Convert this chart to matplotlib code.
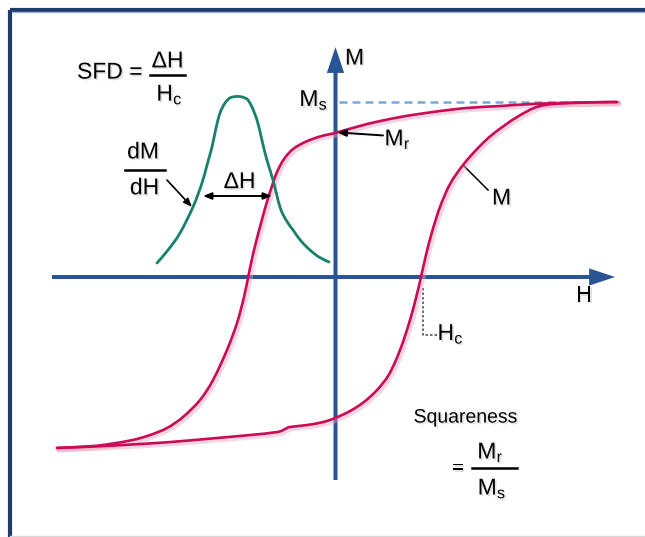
import matplotlib
matplotlib.use("Agg")
import numpy as np
import matplotlib.pyplot as plt
import matplotlib.patheffects as pe
from matplotlib.patches import FancyArrowPatch, PathPatch
from matplotlib.path import Path

plt.rcParams['font.family'] = ['Liberation Sans', 'DejaVu Sans']
plt.rcParams['mathtext.fontset'] = 'custom'
plt.rcParams['mathtext.rm'] = 'Liberation Sans'
plt.rcParams['mathtext.it'] = 'Liberation Sans'

# ---------------- data (H, M in arbitrary units) ----------------
Ms = 1.0          # saturation magnetisation
Mr = 0.826        # remanence
Hc = 0.855        # coercivity

# descending branch (from +saturation to -saturation)
upper_H = [2.815, 2.445, 1.975, 1.645, 1.315, 0.975, 0.645, 0.315, 0.015,
           -0.155, -0.305, -0.425, -0.515, -0.585, -0.635, -0.695, -0.755,
           -0.815, -0.865, -0.915, -0.985, -1.085, -1.225, -1.355, -1.525,
           -1.685, -1.855, -2.025, -2.255, -2.425, -2.785]
upper_M = [1.000, 0.997, 0.989, 0.977, 0.966, 0.943, 0.914, 0.874, 0.826,
           0.803, 0.771, 0.731, 0.674, 0.600, 0.520, 0.411, 0.286,
           0.154, 0.023, -0.114, -0.263, -0.417, -0.589, -0.703, -0.800,
           -0.863, -0.903, -0.931, -0.954, -0.966, -0.977]

# ascending branch (from -saturation to +saturation)
lower_H = [-2.785, -2.425, -1.855, -1.525, -1.185, -0.855, -0.585, -0.505, -0.455,
           -0.285, -0.125, -0.005, 0.145, 0.285, 0.415, 0.525, 0.605, 0.675, 0.745,
           0.805, 0.855, 0.905, 0.965, 1.045, 1.145, 1.275, 1.425, 1.575, 1.815,
           2.045, 2.345, 2.815]
lower_M = [-0.977, -0.969, -0.951, -0.937, -0.920, -0.903, -0.886, -0.869, -0.857,
           -0.846, -0.829, -0.806, -0.766, -0.714, -0.646, -0.566, -0.474, -0.371,
           -0.246, -0.120, 0.000, 0.126, 0.257, 0.400, 0.531, 0.640, 0.737, 0.817,
           0.914, 0.977, 0.994, 1.000]

# switching field distribution dM/dH (drawn in the same frame)
sfd_H = [-1.785, -1.675, -1.555, -1.425, -1.335, -1.285, -1.235, -1.195, -1.155,
         -1.105, -1.055, -1.005, -0.955, -0.905, -0.875, -0.835, -0.785, -0.745,
         -0.705, -0.665, -0.625, -0.555, -0.495, -0.425, -0.345, -0.255, -0.165,
         -0.065]
sfd_y = [0.080, 0.154, 0.251, 0.400, 0.537, 0.640, 0.743, 0.851, 0.937, 0.994,
         1.023, 1.031, 1.031, 1.023, 1.011, 0.971, 0.897, 0.806, 0.709, 0.629,
         0.554, 0.400, 0.326, 0.269, 0.206, 0.154, 0.114, 0.086]

# half-maximum width of the distribution
dH_left, dH_right, dH_level = -1.325, -0.635, 0.463

# axis extents
H_min, H_max = -2.835, 2.795
M_min, M_max = -1.16, 1.314

# ---------------- figure ----------------
fig = plt.figure(figsize=(6.45, 5.37), dpi=100)
ax = fig.add_axes([0, 0, 1, 1])
ax.set_xlim(-3.355, 3.095)
ax.set_ylim(-1.4857, 1.5829)
ax.axis('off')

RED = '#cc0a55'
GREEN = '#17806a'
BLUE = '#2a5595'
NAVY = '#1f3c6e'


def smooth_path(xs, ys):
    """Catmull-Rom curve through the read points, drawn as cubic Beziers."""
    p = np.column_stack([xs, ys]).astype(float)
    n = len(p)
    verts = [p[0]]
    codes = [Path.MOVETO]
    for i in range(n - 1):
        p0 = p[i - 1] if i > 0 else p[i]
        p1, p2 = p[i], p[i + 1]
        p3 = p[i + 2] if i + 2 < n else p[i + 1]
        c1 = p1 + (p2 - p0) / 6.0
        c2 = p2 - (p3 - p1) / 6.0
        verts += [c1, c2, p2]
        codes += [Path.CURVE4] * 3
    return Path(verts, codes)


def draw_curve(xs, ys, color, effects=None, lw=1.9):
    patch = PathPatch(smooth_path(xs, ys), facecolor='none', edgecolor=color,
                      lw=lw, zorder=4, joinstyle='round', capstyle='round')
    if effects:
        patch.set_path_effects(effects)
    ax.add_patch(patch)


# frame
ax.plot([0.0155, 0.0155], [-0.01, 0.9814], transform=ax.transAxes, color=NAVY,
        lw=3.0, solid_capstyle='butt')
ax.plot([0.0155, 1.01], [0.9814, 0.9814], transform=ax.transAxes, color=NAVY,
        lw=3.0, solid_capstyle='butt')
ax.plot([0.0185, 1.01], [0.9768, 0.9768], transform=ax.transAxes, color='#9db4d6',
        lw=1.0, solid_capstyle='butt')
ax.plot([0.0155, 1.01], [0.0025, 0.0025], transform=ax.transAxes, color='#d8d8d8',
        lw=1.0)

# Ms dashed line
ax.plot([0.03, H_max + 0.05], [Ms, Ms], color='#74a9d8', lw=1.8,
        dashes=(3.2, 2.0), zorder=2)

# axes with arrows
for (x0, y0, x1, y1) in [(H_min, 0, H_max, 0), (0, M_min, 0, M_max)]:
    ax.add_patch(FancyArrowPatch((x0, y0), (x1, y1),
                                 arrowstyle='-|>,head_length=0.42,head_width=0.14',
                                 mutation_scale=30, color=BLUE, lw=2.9,
                                 shrinkA=0, shrinkB=0, joinstyle='miter',
                                 capstyle='butt', zorder=3))

# loop
shadow = [pe.Stroke(offset=(1.3, -1.3), linewidth=3.6, foreground='#eea3bf',
                    alpha=0.45), pe.Normal()]
draw_curve(upper_H, upper_M, RED, shadow)
draw_curve(lower_H, lower_M, RED, shadow)

# SFD curve
draw_curve(sfd_H, sfd_y, GREEN, lw=2.0)

tshadow = [pe.withSimplePatchShadow(offset=(1.2, -1.2), shadow_rgbFace='#999999',
                                    alpha=0.3)]
FS = 16.5


def txt(x, y, s, size=FS, ha='center', va='center'):
    ax.text(x, y, s, fontsize=size, ha=ha, va=va, color='black',
            path_effects=tshadow, zorder=6)


# SFD formula
txt(-2.585, 1.171, 'SFD =', ha='left')
txt(-1.68, 1.235, 'ΔH')
ax.plot([-1.855, -1.505], [1.154, 1.154], color='black', lw=1.8)
txt(-1.66, 1.045, r'$\mathregular{H_c}$')

# dM/dH label
txt(-1.925, 0.715, 'dM')
ax.plot([-2.105, -1.705], [0.611, 0.611], color='black', lw=1.8)
txt(-1.91, 0.51, 'dH')
ax.annotate('', xy=(-1.435, 0.400), xytext=(-1.685, 0.554),
            arrowprops=dict(arrowstyle='-|>,head_length=0.5,head_width=0.2',
                            color='black', lw=1.2, shrinkA=0, shrinkB=0))

# delta H arrow
ax.annotate('', xy=(dH_left, dH_level), xytext=(dH_right, dH_level),
            arrowprops=dict(arrowstyle='<|-|>,head_length=0.5,head_width=0.2',
                            color='black', lw=1.4, shrinkA=0, shrinkB=0), zorder=5)
txt((dH_left + dH_right) / 2 + 0.02, 0.545, 'ΔH')

# axis labels
txt(0.095, 1.251, 'M', ha='left')
txt(2.485, -0.103, 'H')
ax.text(-0.075, 0.977, r'$\mathregular{M_s}$', fontsize=FS, ha='right',
        va='baseline', path_effects=tshadow, zorder=6)

# Mr
ax.annotate('', xy=(0.02, Mr), xytext=(0.475, Mr - 0.017),
            arrowprops=dict(arrowstyle='-|>,head_length=0.5,head_width=0.2',
                            color='black', lw=1.4, shrinkA=0, shrinkB=0), zorder=5)
ax.text(0.49, 0.752, r'$\mathregular{M_r}$', fontsize=FS, ha='left',
        va='baseline', path_effects=tshadow, zorder=6)

# M curve label
ax.plot([1.275, 1.525], [0.640, 0.497], color='black', lw=1.1)
txt(1.66, 0.451, 'M')

# Hc
ax.plot([Hc + 0.02, Hc + 0.02, Hc + 0.16], [-0.063, -0.331, -0.331],
        color='#555555', lw=1.2, ls=(0, (1.5, 1.2)))
ax.text(1.02, -0.36, r'$\mathregular{H_c}$', fontsize=FS, ha='left',
        va='baseline', path_effects=tshadow, zorder=6)

# Squareness
txt(1.305, -0.806, 'Squareness', size=14)
txt(1.225, -1.095, '=', size=14)
txt(1.55, -1.0, r'$\mathregular{M_r}$')
ax.plot([1.365, 1.815], [-1.091, -1.091], color='black', lw=1.8)
txt(1.565, -1.206, r'$\mathregular{M_s}$')

fig.savefig('out.png', dpi=100)
